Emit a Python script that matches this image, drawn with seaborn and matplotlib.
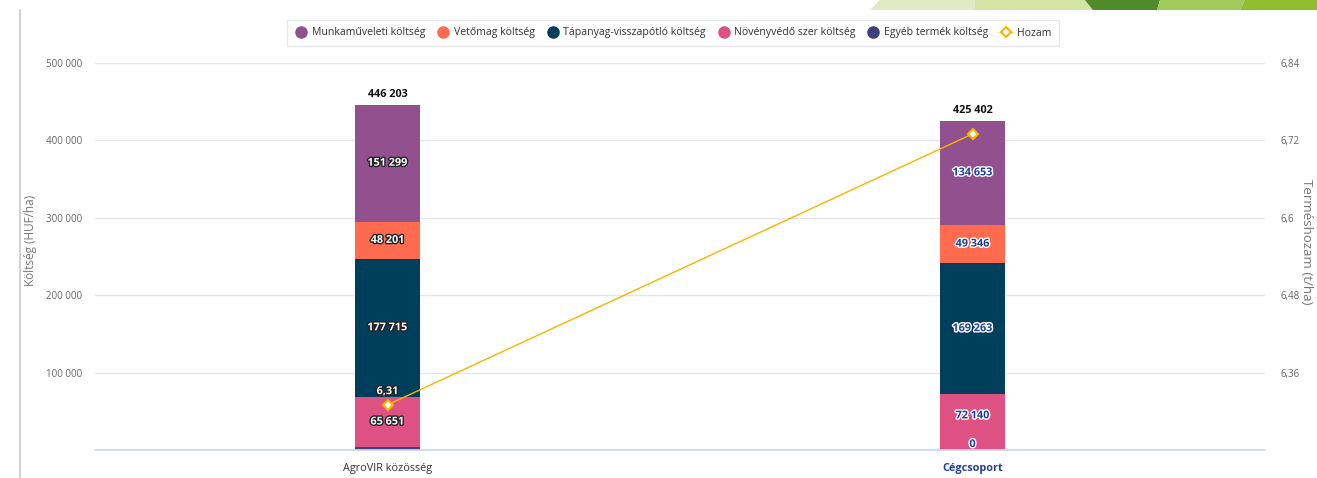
import matplotlib
matplotlib.use("Agg")
import matplotlib.pyplot as plt
import matplotlib.patheffects as pe
from matplotlib.patches import Polygon
from matplotlib.lines import Line2D
import numpy as np
import pandas as pd
import seaborn as sns

# ---- data ----
categories = ["AgroVIR közösség", "Cégcsoport"]
egyeb = [3337, 0]
novenyvedo = [65651, 72140]
tapanyag = [177715, 169263]
vetomag = [48201, 49346]
munka = [151299, 134653]
hozam = [6.31, 6.73]

series_names = ["Egyéb termék költség", "Növényvédő szer költség", "Tápanyag-visszapótló költség",
                "Vetőmag költség", "Munkaműveleti költség"]
series_vals = [egyeb, novenyvedo, tapanyag, vetomag, munka]
series_colors = ["#3f3f80", "#de5283", "#003f5c", "#ff6b4f", "#93508f"]

yticks_left = [0, 100000, 200000, 300000, 400000, 500000]
yticks_right = [6.24, 6.36, 6.48, 6.6, 6.72, 6.84]

sns.set_theme(style="white")
plt.rcParams["font.family"] = ["Open Sans", "DejaVu Sans"]

fig = plt.figure(figsize=(13.17, 4.78), dpi=100)
ax = fig.add_axes([95 / 1317, 1 - 450 / 478, 1170 / 1317, 387 / 478])

df = pd.DataFrame({"cat": categories})
bottom = np.zeros(len(categories))
for name, vals, col in zip(series_names, series_vals, series_colors):
    df["v"] = vals
    sns.barplot(data=df, x="cat", y="v", color=col, width=0.111, bottom=bottom,
                ax=ax, linewidth=0, saturation=1, errorbar=None)
    bottom = bottom + np.array(vals)

ax.set_xlim(-0.5, 1.5)
ax.set_ylim(0, 500000)
ax.set_yticks(yticks_left)
ax.set_yticklabels(["" if v == 0 else f"{v:,}".replace(",", " ") for v in yticks_left],
                   fontsize=7, color="#666666")
ax.yaxis.grid(True, color="#e6e6e6", linewidth=1)
ax.set_axisbelow(True)
for s in ["top", "left", "right"]:
    ax.spines[s].set_visible(False)
ax.spines["bottom"].set_color("#ccd6eb")
ax.tick_params(axis="y", length=0, pad=9)
ax.tick_params(axis="x", length=0, pad=9)
ax.set_xlabel("")
ax.set_ylabel("Költség (HUF/ha)", fontsize=8.5, color="#777777")
ax.yaxis.set_label_coords((37 - 95) / 1170, (450 - 240) / 387)
ax.set_xticks(range(len(categories)))
ax.set_xticklabels(categories, fontsize=7.8)
lbls = ax.get_xticklabels()
lbls[0].set_color("#333333")
lbls[1].set_color("#203f9a")
lbls[1].set_fontweight("bold")

# data labels
fs = 7.8
cum = np.zeros(len(categories))
for i_s, (name, vals) in enumerate(zip(series_names, series_vals)):
    for i, v in enumerate(vals):
        if i == 0:
            fc, ec = "white", "#222222"
        else:
            fc, ec = "#1d3f9c", "white"
        if i_s == 0:
            if v == 0:
                ax.text(i, 7000, "0", ha="center", va="center", fontsize=fs, fontweight="bold",
                        color=fc, path_effects=[pe.withStroke(linewidth=2, foreground=ec)])
        else:
            ax.text(i, cum[i] + v / 2 + (8000 if (i == 1 and i_s == 1) else 0),
                    f"{v:,}".replace(",", " "), ha="center", va="center",
                    fontsize=fs, fontweight="bold", color=fc,
                    path_effects=[pe.withStroke(linewidth=2, foreground=ec)])
        cum[i] += v
for i, t in enumerate(cum):
    ax.text(i, t + 6000, f"{int(t):,}".replace(",", " "), ha="center", va="bottom",
            fontsize=fs, fontweight="bold", color="#111111")

# yield axis
ax2 = ax.twinx()
sns.lineplot(x=np.arange(len(categories)), y=hozam, ax=ax2, color="#f7b500", linewidth=1,
             marker="D", markersize=5, markerfacecolor="white", markeredgecolor="#f7b500",
             markeredgewidth=1.5)
ax2.set_ylim(6.24, 6.84)
ax2.set_yticks(yticks_right)
ax2.set_yticklabels(["" if v == 6.24 else (f"{v:g}").replace(".", ",") for v in yticks_right],
                    fontsize=7, color="#666666")
ax2.tick_params(axis="y", length=0, pad=11)
for s in ["top", "left", "right", "bottom"]:
    ax2.spines[s].set_visible(False)
ax2.set_ylabel("Terméshozam (t/ha)", fontsize=9.5, color="#777777", rotation=270, va="center")
ax2.yaxis.set_label_coords((1306 - 95) / 1170, (450 - 242) / 387)
ax2.set_xlim(-0.5, 1.5)
ax2.text(0, hozam[0] + 0.012, f"{hozam[0]:.2f}".replace(".", ","), ha="center", va="bottom",
         fontsize=fs, fontweight="bold", color="white",
         path_effects=[pe.withStroke(linewidth=2, foreground="#222222")])

# legend
handles = []
labels = []
for name, col in zip(series_names[::-1], series_colors[::-1]):
    handles.append(Line2D([], [], marker="o", linestyle="", markersize=8, markerfacecolor=col,
                          markeredgecolor=col))
    labels.append(name)
handles.append(Line2D([], [], color="#f7b500", linewidth=1, marker="D", markersize=5,
                      markerfacecolor="white", markeredgecolor="#f7b500", markeredgewidth=1.5))
labels.append("Hozam")
leg = fig.legend(handles, labels, loc="center", bbox_to_anchor=(673 / 1317, 1 - 33 / 478), ncol=6,
                 frameon=True, fontsize=7.6, handlelength=1.2, handletextpad=0.4, columnspacing=1.1,
                 borderpad=0.75, fancybox=False)
leg.get_frame().set_edgecolor("#e3e3e3")
leg.get_frame().set_linewidth(1)
for t in leg.get_texts():
    t.set_color("#333333")

# decorations: page border line and green band
fig.add_artist(Line2D([20 / 1317, 20 / 1317], [0, 1 - 10 / 478], transform=fig.transFigure,
                      color="#c8c8c8", linewidth=1.2))
band_y = 1 - 10 / 478


def poly(xs, color):
    pts = [(xs[0] / 1317, 1), (xs[1] / 1317, 1), (xs[2] / 1317, band_y), (xs[3] / 1317, band_y)]
    fig.add_artist(Polygon(pts, closed=True, transform=fig.transFigure, facecolor=color,
                           edgecolor="none"))


poly([880, 1000, 1000, 870], "#e0ebc3")
poly([975, 1095, 1095, 975], "#d3e4a5")
poly([1085, 1160, 1157, 1093], "#4f8b2b")
poly([1160, 1245, 1240, 1157], "#9fca5e")
poly([1245, 1317, 1317, 1240], "#8fbf2f")

fig.savefig("out.png", dpi=100)
